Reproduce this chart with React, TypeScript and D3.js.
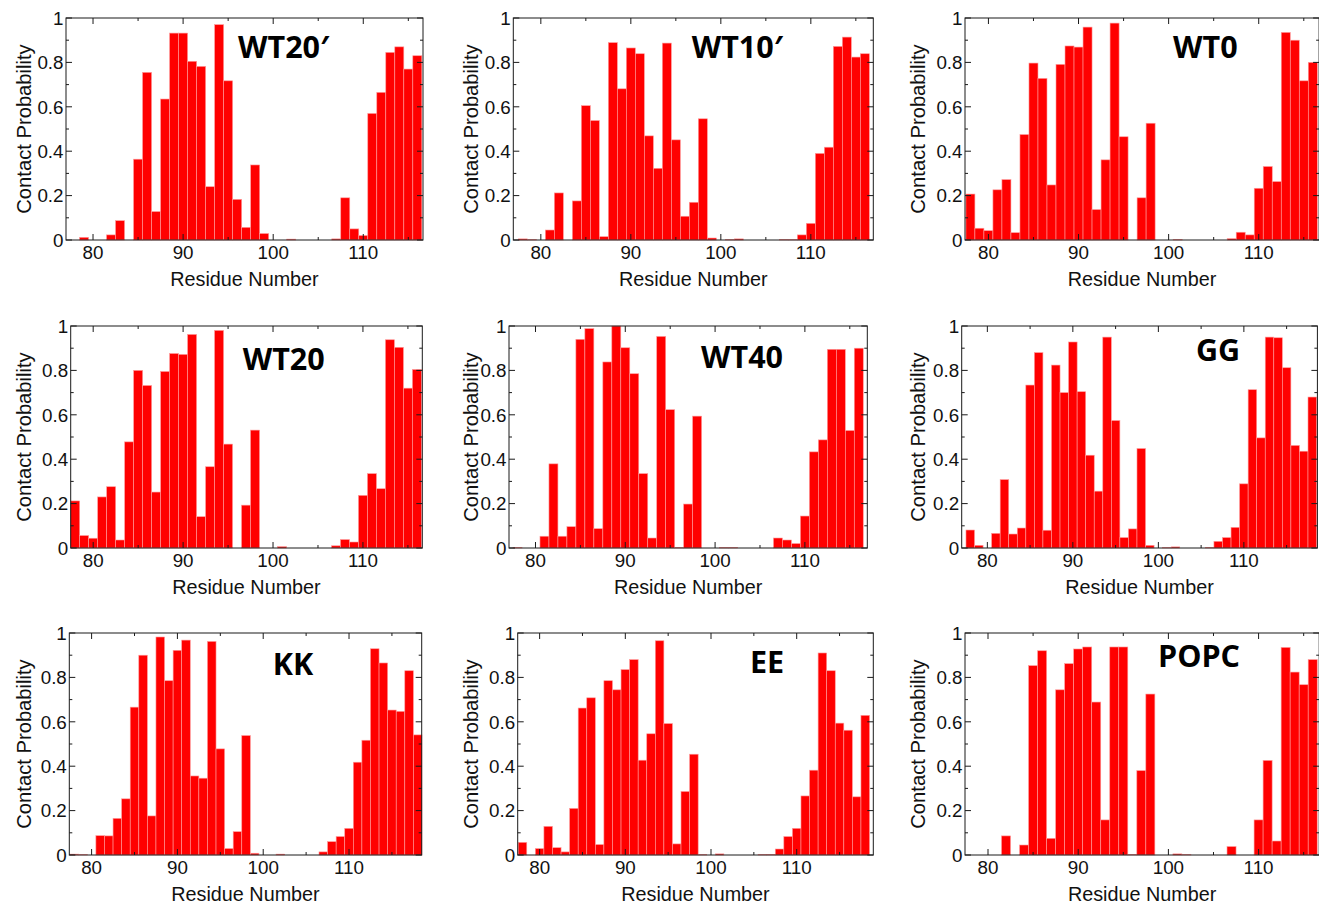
import React from "react";
import * as d3 from "d3";

// ---------- data ----------
const residues116 = [78, 79, 80, 81, 82, 83, 84, 85, 86, 87, 88, 89, 90, 91, 92, 93, 94, 95, 96, 97, 98, 99, 100, 101, 102, 103, 104, 105, 106, 107, 108, 109, 110, 111, 112, 113, 114, 115, 116];
const residues118 = [78, 79, 80, 81, 82, 83, 84, 85, 86, 87, 88, 89, 90, 91, 92, 93, 94, 95, 96, 97, 98, 99, 100, 101, 102, 103, 104, 105, 106, 107, 108, 109, 110, 111, 112, 113, 114, 115, 116, 117, 118];

const wt20p = [0, 0.012, 0, 0, 0.023, 0.087, 0, 0.364, 0.755, 0.128, 0.635, 0.932, 0.932, 0.805, 0.782, 0.24, 0.97, 0.717, 0.183, 0.057, 0.338, 0.029, 0, 0, 0.004, 0, 0, 0, 0, 0.005, 0.19, 0.05, 0.02, 0.57, 0.665, 0.845, 0.87, 0.77, 0.83];
const wt10p = [0.005, 0.002, 0, 0.045, 0.212, 0, 0.176, 0.605, 0.538, 0.015, 0.889, 0.681, 0.865, 0.839, 0.469, 0.323, 0.887, 0.451, 0.107, 0.17, 0.546, 0.009, 0, 0.002, 0.005, 0, 0, 0, 0, 0.003, 0.002, 0.023, 0.075, 0.39, 0.418, 0.872, 0.914, 0.824, 0.839];
const wt0 = [0.207, 0.053, 0.042, 0.226, 0.272, 0.033, 0.475, 0.797, 0.728, 0.248, 0.791, 0.874, 0.869, 0.959, 0.137, 0.361, 0.977, 0.465, 0, 0.19, 0.526, 0, 0, 0.003, 0, 0, 0, 0, 0, 0.006, 0.035, 0.023, 0.233, 0.331, 0.263, 0.935, 0.9, 0.717, 0.8];
const wt20 = [0.212, 0.056, 0.044, 0.23, 0.276, 0.036, 0.478, 0.8, 0.732, 0.252, 0.795, 0.876, 0.872, 0.962, 0.141, 0.366, 0.98, 0.468, 0, 0.193, 0.531, 0, 0, 0.006, 0, 0, 0, 0, 0, 0.01, 0.038, 0.027, 0.237, 0.335, 0.267, 0.938, 0.904, 0.72, 0.804];
const wt40 = [0.003, 0, 0, 0.053, 0.379, 0.053, 0.096, 0.94, 0.988, 0.087, 0.838, 1.0, 0.902, 0.785, 0.335, 0.045, 0.953, 0.623, 0.003, 0.198, 0.594, 0, 0, 0.003, 0.003, 0, 0, 0, 0, 0.045, 0.036, 0.02, 0.144, 0.433, 0.487, 0.895, 0.895, 0.529, 0.9];
const gg = [0.081, 0.012, 0, 0.066, 0.308, 0.063, 0.09, 0.734, 0.88, 0.08, 0.824, 0.7, 0.928, 0.704, 0.418, 0.256, 0.95, 0.574, 0.047, 0.086, 0.448, 0.012, 0, 0.002, 0.005, 0, 0, 0, 0.003, 0.03, 0.047, 0.093, 0.289, 0.713, 0.496, 0.95, 0.947, 0.812, 0.462, 0.436, 0.68];
const kk = [0.004, 0.002, 0, 0.087, 0.086, 0.165, 0.253, 0.666, 0.9, 0.176, 0.982, 0.785, 0.922, 0.968, 0.356, 0.346, 0.962, 0.478, 0.029, 0.105, 0.538, 0.008, 0, 0, 0.004, 0, 0, 0, 0, 0.014, 0.06, 0.083, 0.12, 0.418, 0.517, 0.929, 0.865, 0.653, 0.647, 0.83, 0.541];
const ee = [0.057, 0, 0.029, 0.129, 0.033, 0.014, 0.21, 0.662, 0.708, 0.047, 0.785, 0.744, 0.835, 0.88, 0.427, 0.546, 0.965, 0.592, 0.05, 0.286, 0.454, 0.002, 0, 0.005, 0, 0, 0, 0, 0.002, 0.003, 0.027, 0.083, 0.12, 0.266, 0.382, 0.91, 0.83, 0.594, 0.562, 0.262, 0.629];
const popc = [0, 0, 0, 0, 0.086, 0, 0.045, 0.853, 0.92, 0.075, 0.744, 0.862, 0.928, 0.937, 0.689, 0.158, 0.937, 0.937, 0.003, 0.38, 0.725, 0, 0, 0.005, 0.002, 0, 0, 0, 0, 0.038, 0, 0, 0.158, 0.426, 0.063, 0.935, 0.824, 0.767, 0.88];

const panelNames = ["WT20\u2032", "WT10\u2032", "WT0", "WT20", "WT40", "GG", "KK", "EE", "POPC"];
const panelSeries = [wt20p, wt10p, wt0, wt20, wt40, gg, kk, ee, popc];
const panelResidues = [residues116, residues116, residues116, residues116, residues116, residues118, residues118, residues118, residues116];
const panelDomains: [number, number][] = [
  [77.0, 116.63], [76.94, 116.94], [77.4, 116.7],
  [77.5, 116.6], [77.05, 116.95], [77.0, 118.6],
  [77.4, 118.47], [77.44, 118.94], [77.45, 116.72],
];
const xTicks = [80, 90, 100, 110];
const xMinorTicks = [80, 85, 90, 95, 100, 105, 110, 115];
const yTicks = [0, 0.2, 0.4, 0.6, 0.8, 1];
const yTickLabels = ["0", "0.2", "0.4", "0.6", "0.8", "1"];
const yMinorTicks = [0.1, 0.3, 0.5, 0.7, 0.9];
const xTitle = "Residue Number";
const yTitle = "Contact Probability";

// ---------- layout ----------
const panelRanges: [number, number][] = [
  [66, 423], [513.3, 873.3], [965, 1319.1],
  [70.7, 422.3], [509, 867.3], [961.7, 1317.4],
  [69.3, 421.7], [517.7, 873.3], [965, 1319.2],
];
const rowTop = [18, 326, 633];
const rowBottom = [240, 548, 855];
const yTitleX = [30.5, 478.3, 925];
const titlePos: [number, number][] = [
  [238, 58.3], [691.7, 58], [1173, 58],
  [242.7, 369.7], [701, 368], [1196, 360.7],
  [272.7, 675], [750, 672.7], [1158, 666.7],
];

const FONT = "'Liberation Sans', Arial, Helvetica, sans-serif";
const TITLE_FONT = "'Open Sans', 'Liberation Sans', sans-serif";
const AXIS = "#1a1a1a";

function Panel({ idx }: { idx: number }) {
  const row = Math.floor(idx / 3);
  const col = idx % 3;
  const [left, right] = panelRanges[idx];
  const top = rowTop[row];
  const bottom = rowBottom[row];
  const x = d3.scaleLinear().domain(panelDomains[idx]).range([left, right]);
  const y = d3.scaleLinear().domain([0, 1]).range([bottom, top]);
  const res = panelResidues[idx];
  const vals = panelSeries[idx];
  const data = res.map((r, i) => ({ r, v: vals[i] })).filter((d) => d.v > 0);
  const major = 6;
  const minor = 3;
  return (
    <g>
      {data.map((d) => (
        <rect
          key={d.r}
          x={x(d.r - 0.5)}
          y={y(d.v)}
          width={x(d.r + 0.5) - x(d.r - 0.5)}
          height={bottom - y(d.v)}
          fill="#ff0000"
          stroke="#ff9a9a"
          strokeWidth={0.6}
        />
      ))}
      <rect x={left} y={top} width={right - left} height={bottom - top} fill="none" stroke={AXIS} strokeWidth={1} />
      {xMinorTicks.map((t) => {
        const len = xTicks.includes(t) ? major : minor;
        return (
          <g key={"xt" + t}>
            <line x1={x(t)} x2={x(t)} y1={bottom} y2={bottom - len} stroke={AXIS} strokeWidth={1} />
            <line x1={x(t)} x2={x(t)} y1={top} y2={top + len} stroke={AXIS} strokeWidth={1} />
          </g>
        );
      })}
      {yTicks.map((t) => (
        <g key={"yt" + t}>
          <line x1={left} x2={left + major} y1={y(t)} y2={y(t)} stroke={AXIS} strokeWidth={1} />
          <line x1={right} x2={right - major} y1={y(t)} y2={y(t)} stroke={AXIS} strokeWidth={1} />
        </g>
      ))}
      {yMinorTicks.map((t) => (
        <g key={"ym" + t}>
          <line x1={left} x2={left + minor} y1={y(t)} y2={y(t)} stroke={AXIS} strokeWidth={1} />
          <line x1={right} x2={right - minor} y1={y(t)} y2={y(t)} stroke={AXIS} strokeWidth={1} />
        </g>
      ))}
      {xTicks.map((t) => (
        <text key={"xl" + t} x={x(t)} y={bottom + 18.5} textAnchor="middle" fontFamily={FONT} fontSize={18.8} fill="#111">
          {t}
        </text>
      ))}
      {yTicks.map((t, i) => (
        <text key={"yl" + t} x={left - 2.5} y={y(t)} dy="0.36em" textAnchor="end" fontFamily={FONT} fontSize={18.8} fill="#111">
          {yTickLabels[i]}
        </text>
      ))}
      <text x={(left + right) / 2} y={bottom + 46} textAnchor="middle" fontFamily={FONT} fontSize={19.8} fill="#111">
        {xTitle}
      </text>
      <text
        transform={`translate(${yTitleX[col]},${(top + bottom) / 2}) rotate(-90)`}
        textAnchor="middle"
        fontFamily={FONT}
        fontSize={20.2}
        fill="#111"
      >
        {yTitle}
      </text>
      <text x={titlePos[idx][0]} y={titlePos[idx][1]} fontFamily={TITLE_FONT} fontWeight="bold" fontSize={30.5} fill="#000">
        {panelNames[idx]}
      </text>
    </g>
  );
}

export default function App() {
  return (
    <svg
      width={1319}
      height={904}
      style={{ position: "absolute", left: 0, top: 0, background: "#fff" }}
    >
      {panelNames.map((_, i) => (
        <Panel key={i} idx={i} />
      ))}
    </svg>
  );
}
